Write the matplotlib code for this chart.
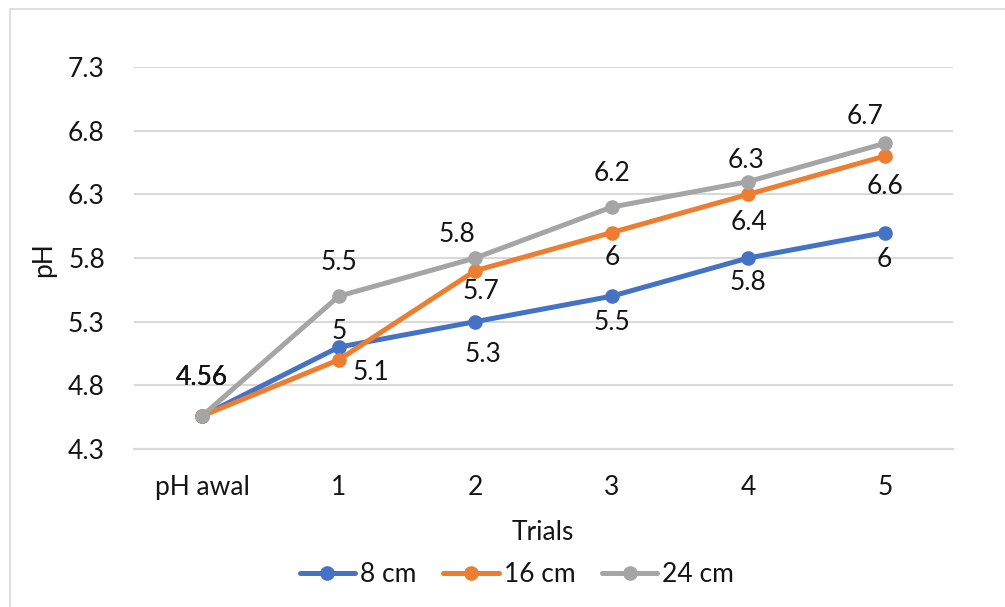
import matplotlib
matplotlib.use("Agg")
import matplotlib.pyplot as plt
from matplotlib.patches import Rectangle

# data
categories = ["pH awal", "1", "2", "3", "4", "5"]
ph_8cm = [4.56, 5.1, 5.3, 5.5, 5.8, 6.0]
ph_16cm = [4.56, 5.0, 5.7, 6.0, 6.3, 6.6]
ph_24cm = [4.56, 5.5, 5.8, 6.2, 6.4, 6.7]
labels_8cm = ["4.56", "5", "5.3", "5.5", "5.8", "6"]
labels_16cm = ["4.56", "5.1", "5.7", "6", "6.4", "6.6"]
labels_24cm = ["4.56", "5.5", "5.8", "6.2", "6.3", "6.7"]
y_ticks = [4.3, 4.8, 5.3, 5.8, 6.3, 6.8, 7.3]

# label offsets in pixels (dx, dy down)
off_8 = [(0, -38), (0, -16), (8, 33), (0, 26), (0, 25), (0, 27)]
off_16 = [(0, -38), (32, 13), (6, 21), (0, 25), (1, 28), (0, 30)]
off_24 = [(0, -38), (0, -34), (-18, -24), (0, -34), (-2, -21), (-20, -27)]

plt.rcParams['font.family'] = ['Lato', 'DejaVu Sans']
txt = '#141414'
fs = 19

fig = plt.figure(figsize=(10.05, 6.07), dpi=100)
fig.patches.append(Rectangle((10 / 1005, -0.05), 1.1, (607 - 9) / 607 + 0.05,
                             transform=fig.transFigure, fill=False,
                             edgecolor='#d9d9d9', linewidth=1.2))
ax = fig.add_axes([134 / 1005, (607 - 449) / 607, 819 / 1005, 382 / 607])

x = list(range(len(categories)))
series = [
    ("8 cm", ph_8cm, labels_8cm, off_8, '#4472c4'),
    ("16 cm", ph_16cm, labels_16cm, off_16, '#ed7d31'),
    ("24 cm", ph_24cm, labels_24cm, off_24, '#a5a5a5'),
]
for name, vals, labs, offs, col in series:
    ax.plot(x, vals, color=col, linewidth=3.6, marker='o', markersize=9.5,
            label=name, zorder=3, solid_capstyle='round')
for name, vals, labs, offs, col in series:
    for xi, v, lab, (dx, dy) in zip(x, vals, labs, offs):
        ax.annotate(lab, (xi, v), xytext=(dx, -dy), textcoords='offset pixels',
                    ha='center', va='center', fontsize=fs, color=txt, zorder=4)

ax.set_xlim(-0.5, 5.5)
ax.set_ylim(4.3, 7.3)
ax.set_yticks(y_ticks)
ax.set_yticklabels([str(t) for t in y_ticks])
ax.set_xticks(x)
ax.set_xticklabels(categories)
ax.yaxis.grid(True, color='#d9d9d9', linewidth=1.5)
ax.set_axisbelow(True)
for s in ['top', 'right', 'left']:
    ax.spines[s].set_visible(False)
ax.spines['bottom'].set_color('#d9d9d9')
ax.spines['bottom'].set_linewidth(1.5)
ax.tick_params(axis='both', length=0, labelsize=fs, colors=txt)
ax.tick_params(axis='y', pad=21)
ax.tick_params(axis='x', pad=19)

fig.text(44 / 1005, 1 - 260 / 607, "pH", rotation=90, ha='center', va='center',
         fontsize=fs, color=txt)
fig.text(543 / 1005, 1 - 532 / 607, "Trials", ha='center', va='center',
         fontsize=fs, color=txt)

fig.legend(loc='center', bbox_to_anchor=(517 / 1005, 1 - 575 / 607), ncol=3,
           frameon=False, fontsize=fs, handlelength=2.1, handletextpad=0.2,
           columnspacing=1.0, labelcolor=txt)

fig.savefig("out.png", dpi=100)
